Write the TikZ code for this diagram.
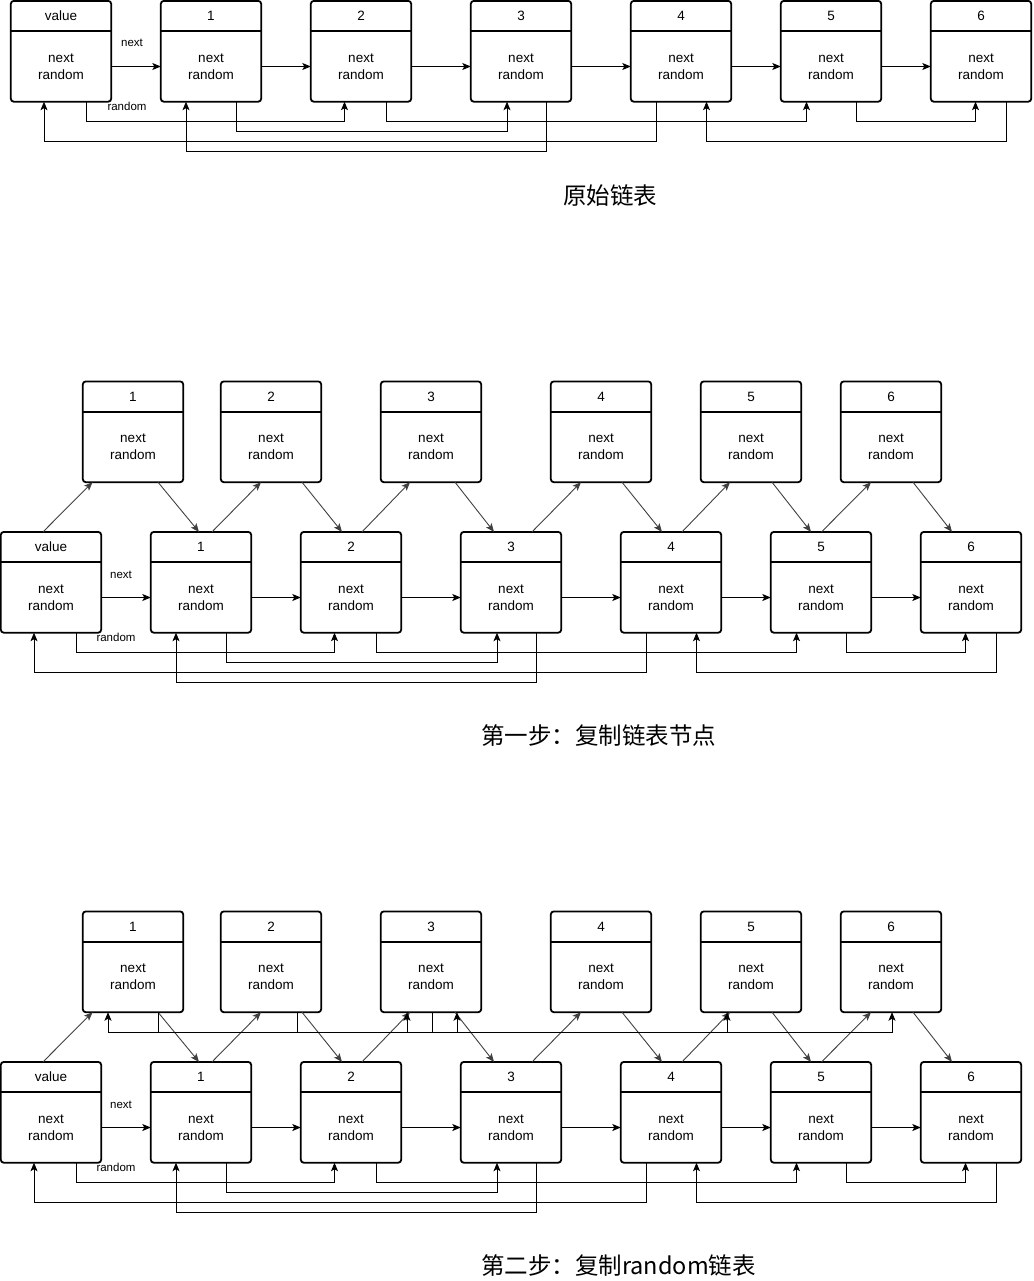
\documentclass[tikz,border=0pt]{standalone}
\usepackage{fontspec}
\setmainfont{Liberation Sans}
\newfontfamily\cjk{Noto Sans CJK SC}
\usepackage{tikz}
\usetikzlibrary{arrows.meta, positioning}
\newcommand{\lnode}[4]{%
  \node[boxbody] (#1) at (#2+50, #3+65) {next\\random};
  \node[boxhead, above=0pt of #1] (#1h) {#4};
  \draw[boxline, rounded corners=3pt] (#1h.north west) rectangle (#1.south east);
  \draw[boxline] (#1.north west) -- (#1.north east);
}

\begin{document}
\begin{tikzpicture}[x=1pt, y=-1pt,
  boxbody/.style={minimum width=100pt, minimum height=70pt, inner sep=0pt, align=center, font=\fontsize{13.5}{17}\selectfont},
  boxhead/.style={minimum width=100pt, minimum height=30pt, inner sep=0pt, font=\fontsize{13.5}{16}\selectfont},
  boxline/.style={line width=1.8pt},
  arr/.style={-{Stealth[length=8.5pt, width=7pt, inset=2pt]}, line width=0.9pt},
  copyarr/.style={arr, black!75},
  edgelbl/.style={font=\fontsize{11.5}{13}\selectfont, inner sep=0pt},
  ttl/.style={font=\cjk\fontsize{23.5}{28}\selectfont, anchor=west, inner sep=0pt}]
\useasboundingbox (0,0) rectangle (1033,1281);

\foreach \i/\x/\hd in {0/11/value, 1/161/1, 2/311/2, 3/471/3, 4/631/4, 5/781/5, 6/931/6} {
  \lnode{a\i}{\x}{1.5}{\hd}
}
\foreach \i/\x/\hd in {0/1/value, 1/151/1, 2/301/2, 3/461/3, 4/621/4, 5/771/5, 6/921/6} {
  \lnode{b\i}{\x}{532.5}{\hd}
  \lnode{c\i}{\x}{1062.5}{\hd}
}
\foreach \i/\x in {1/83, 2/221, 3/381, 4/551, 5/701, 6/841} {
  \lnode{bn\i}{\x}{382}{\i}
  \lnode{cn\i}{\x}{912}{\i}
}

\foreach \p in {a,b,c} {
  \foreach \i [evaluate=\i as \j using int(\i+1)] in {0,...,5}
    \draw[arr] (\p\i) -- (\p\j);
  \foreach \s/\sx/\tg/\tx/\dep in {0/25/2/-16.5/20, 1/25/3/-14/30, 2/25/5/-24.5/20, 3/25/1/-25/50, 4/-25/0/-17/40, 5/25/6/-5.5/20, 6/25/4/25.5/40}
    \draw[arr] ([xshift=\sx pt]\p\s.south) -- ++(0,\dep) -| ([xshift=\tx pt]\p\tg.south);
}

\foreach \p in {b,c} {
  \foreach \s/\sx/\tg/\tx in {0/-8/1/-40.5, 1/11/2/-10, 2/11/3/-21, 3/21/4/-20, 4/11/5/-21, 5/0.5/6/-20}
    \draw[copyarr] ([xshift=\sx pt]\p\s h.north) -- ([xshift=\tx pt]\p n\tg.south);
  \foreach \s/\sx/\tx in {1/25/-2, 2/31/-9, 3/24/-17, 4/21/-9, 5/21/-10, 6/22/-19}
    \draw[copyarr] ([xshift=\sx pt]\p n\s.south) -- ([xshift=\tx pt]\p\s h.north);
}

\foreach \s/\sx/\tg/\tx in {1/25/3/-24, 2/26/5/-24, 3/1/1/-25, 3/1/6/1, 2/26/3/26}
  \draw[arr] ([xshift=\sx pt]cn\s.south) -- ++(0,20) -| ([xshift=\tx pt]cn\tg.south);

\node[edgelbl] (nx1) at (132,43) {next};
\node[edgelbl] (rd1) at (127,106) {random};
\node[edgelbl] (nx2) at (121,575) {next};
\node[edgelbl] (rd2) at (116,637) {random};
\node[edgelbl] (nx3) at (121,1105) {next};
\node[edgelbl] (rd3) at (116,1167) {random};

\node[ttl] (t1) at (563,196) {原始链表};
\node[ttl] (t2) at (481,736) {第一步：复制链表节点};
\node[ttl] (t3) at (481,1266) {第二步：复制random链表};
\end{tikzpicture}
\end{document}
